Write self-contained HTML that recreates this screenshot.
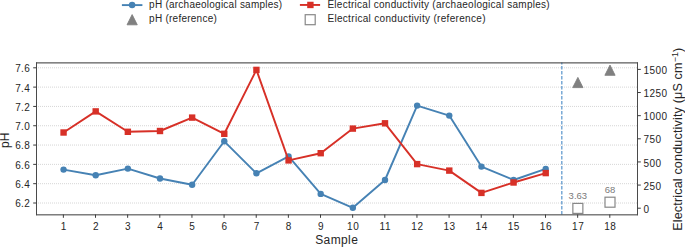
<!DOCTYPE html>
<html><head><meta charset="utf-8"><style>
html,body{margin:0;padding:0;background:#fff;width:685px;height:247px;overflow:hidden}
svg{display:block}
text{font-family:"Liberation Sans", sans-serif}
</style></head><body>
<svg width="685" height="247" viewBox="0 0 685 247">
<rect width="685" height="247" fill="#fff"/>
<line x1="38" x2="637.5" y1="67.80" y2="67.80" stroke="#d6d6d6" stroke-width="1" stroke-dasharray="1 1"/>
<line x1="38" x2="637.5" y1="87.11" y2="87.11" stroke="#d6d6d6" stroke-width="1" stroke-dasharray="1 1"/>
<line x1="38" x2="637.5" y1="106.43" y2="106.43" stroke="#d6d6d6" stroke-width="1" stroke-dasharray="1 1"/>
<line x1="38" x2="637.5" y1="125.74" y2="125.74" stroke="#d6d6d6" stroke-width="1" stroke-dasharray="1 1"/>
<line x1="38" x2="637.5" y1="145.06" y2="145.06" stroke="#d6d6d6" stroke-width="1" stroke-dasharray="1 1"/>
<line x1="38" x2="637.5" y1="164.37" y2="164.37" stroke="#d6d6d6" stroke-width="1" stroke-dasharray="1 1"/>
<line x1="38" x2="637.5" y1="183.68" y2="183.68" stroke="#d6d6d6" stroke-width="1" stroke-dasharray="1 1"/>
<line x1="38" x2="637.5" y1="203.00" y2="203.00" stroke="#d6d6d6" stroke-width="1" stroke-dasharray="1 1"/>
<line x1="561.79" x2="561.79" y1="214.5" y2="62.5" stroke="#6fa3d3" stroke-width="1.4" stroke-dasharray="3.4 1.6"/>
<polyline points="63.56,169.60 95.70,175.30 127.85,168.60 159.99,178.50 192.14,184.70 224.28,141.30 256.42,173.30 288.57,156.40 320.71,193.90 352.85,207.80 385.00,180.00 417.14,105.60 449.28,115.60 481.43,166.60 513.57,180.00 545.71,168.90" fill="none" stroke="#4682b4" stroke-width="1.9" stroke-linejoin="round"/>
<circle cx="63.56" cy="169.60" r="3.2" fill="#4682b4"/>
<circle cx="95.70" cy="175.30" r="3.2" fill="#4682b4"/>
<circle cx="127.85" cy="168.60" r="3.2" fill="#4682b4"/>
<circle cx="159.99" cy="178.50" r="3.2" fill="#4682b4"/>
<circle cx="192.14" cy="184.70" r="3.2" fill="#4682b4"/>
<circle cx="224.28" cy="141.30" r="3.2" fill="#4682b4"/>
<circle cx="256.42" cy="173.30" r="3.2" fill="#4682b4"/>
<circle cx="288.57" cy="156.40" r="3.2" fill="#4682b4"/>
<circle cx="320.71" cy="193.90" r="3.2" fill="#4682b4"/>
<circle cx="352.85" cy="207.80" r="3.2" fill="#4682b4"/>
<circle cx="385.00" cy="180.00" r="3.2" fill="#4682b4"/>
<circle cx="417.14" cy="105.60" r="3.2" fill="#4682b4"/>
<circle cx="449.28" cy="115.60" r="3.2" fill="#4682b4"/>
<circle cx="481.43" cy="166.60" r="3.2" fill="#4682b4"/>
<circle cx="513.57" cy="180.00" r="3.2" fill="#4682b4"/>
<circle cx="545.71" cy="168.90" r="3.2" fill="#4682b4"/>
<polygon points="577.86,77.40 572.76,87.60 582.96,87.60" fill="#808080" stroke="#808080" stroke-width="0.9"/>
<polygon points="610.00,65.10 604.90,75.30 615.10,75.30" fill="#808080" stroke="#808080" stroke-width="0.9"/>
<polyline points="63.56,132.50 95.70,111.40 127.85,131.80 159.99,131.00 192.14,117.60 224.28,133.80 256.42,69.90 288.57,160.40 320.71,153.20 352.85,128.60 385.00,123.30 417.14,164.10 449.28,170.60 481.43,192.90 513.57,182.50 545.71,173.10" fill="none" stroke="#d73027" stroke-width="1.9" stroke-linejoin="round"/>
<rect x="60.36" y="129.30" width="6.4" height="6.4" fill="#d73027"/>
<rect x="92.50" y="108.20" width="6.4" height="6.4" fill="#d73027"/>
<rect x="124.65" y="128.60" width="6.4" height="6.4" fill="#d73027"/>
<rect x="156.79" y="127.80" width="6.4" height="6.4" fill="#d73027"/>
<rect x="188.94" y="114.40" width="6.4" height="6.4" fill="#d73027"/>
<rect x="221.08" y="130.60" width="6.4" height="6.4" fill="#d73027"/>
<rect x="253.22" y="66.70" width="6.4" height="6.4" fill="#d73027"/>
<rect x="285.37" y="157.20" width="6.4" height="6.4" fill="#d73027"/>
<rect x="317.51" y="150.00" width="6.4" height="6.4" fill="#d73027"/>
<rect x="349.65" y="125.40" width="6.4" height="6.4" fill="#d73027"/>
<rect x="381.80" y="120.10" width="6.4" height="6.4" fill="#d73027"/>
<rect x="413.94" y="160.90" width="6.4" height="6.4" fill="#d73027"/>
<rect x="446.08" y="167.40" width="6.4" height="6.4" fill="#d73027"/>
<rect x="478.23" y="189.70" width="6.4" height="6.4" fill="#d73027"/>
<rect x="510.37" y="179.30" width="6.4" height="6.4" fill="#d73027"/>
<rect x="542.51" y="169.90" width="6.4" height="6.4" fill="#d73027"/>
<rect x="572.86" y="203.40" width="10" height="10" fill="#fff" stroke="#888" stroke-width="1.2"/>
<text x="577.86" y="198.80" font-size="9.5" fill="#7a7a7a" text-anchor="middle">3.63</text>
<rect x="605.00" y="197.20" width="10" height="10" fill="#fff" stroke="#888" stroke-width="1.2"/>
<text x="610.00" y="192.60" font-size="9.5" fill="#7a7a7a" text-anchor="middle">68</text>
<line x1="36.0" x2="638.0" y1="62.9" y2="62.9" stroke="#333" stroke-width="1"/>
<line x1="36.0" x2="638.0" y1="214.85" y2="214.85" stroke="#3a3a3a" stroke-width="1"/>
<line x1="36.5" x2="36.5" y1="62.4" y2="215.2" stroke="#4a4a4a" stroke-width="1"/>
<line x1="637.5" x2="637.5" y1="62.4" y2="215.2" stroke="#4a4a4a" stroke-width="1"/>
<line x1="33.2" x2="36.5" y1="67.80" y2="67.80" stroke="#3a3a3a" stroke-width="1"/>
<text x="29.8" y="72.20" font-size="10" fill="#262626" text-anchor="end" textLength="14.609375">7.6</text>
<line x1="33.2" x2="36.5" y1="87.11" y2="87.11" stroke="#3a3a3a" stroke-width="1"/>
<text x="29.8" y="91.51" font-size="10" fill="#262626" text-anchor="end" textLength="14.609375">7.4</text>
<line x1="33.2" x2="36.5" y1="106.43" y2="106.43" stroke="#3a3a3a" stroke-width="1"/>
<text x="29.8" y="110.83" font-size="10" fill="#262626" text-anchor="end" textLength="14.609375">7.2</text>
<line x1="33.2" x2="36.5" y1="125.74" y2="125.74" stroke="#3a3a3a" stroke-width="1"/>
<text x="29.8" y="130.14" font-size="10" fill="#262626" text-anchor="end" textLength="14.609375">7.0</text>
<line x1="33.2" x2="36.5" y1="145.06" y2="145.06" stroke="#3a3a3a" stroke-width="1"/>
<text x="29.8" y="149.46" font-size="10" fill="#262626" text-anchor="end" textLength="14.609375">6.8</text>
<line x1="33.2" x2="36.5" y1="164.37" y2="164.37" stroke="#3a3a3a" stroke-width="1"/>
<text x="29.8" y="168.77" font-size="10" fill="#262626" text-anchor="end" textLength="14.609375">6.6</text>
<line x1="33.2" x2="36.5" y1="183.68" y2="183.68" stroke="#3a3a3a" stroke-width="1"/>
<text x="29.8" y="188.08" font-size="10" fill="#262626" text-anchor="end" textLength="14.609375">6.4</text>
<line x1="33.2" x2="36.5" y1="203.00" y2="203.00" stroke="#3a3a3a" stroke-width="1"/>
<text x="29.8" y="207.40" font-size="10" fill="#262626" text-anchor="end" textLength="14.609375">6.2</text>
<line x1="637.5" x2="640.8" y1="208.20" y2="208.20" stroke="#3a3a3a" stroke-width="1"/>
<text x="643.6" y="212.80" font-size="10" fill="#262626" textLength="5.84375">0</text>
<line x1="637.5" x2="640.8" y1="185.07" y2="185.07" stroke="#3a3a3a" stroke-width="1"/>
<text x="643.6" y="189.67" font-size="10" fill="#262626" textLength="17.53125">250</text>
<line x1="637.5" x2="640.8" y1="161.93" y2="161.93" stroke="#3a3a3a" stroke-width="1"/>
<text x="643.6" y="166.53" font-size="10" fill="#262626" textLength="17.53125">500</text>
<line x1="637.5" x2="640.8" y1="138.80" y2="138.80" stroke="#3a3a3a" stroke-width="1"/>
<text x="643.6" y="143.40" font-size="10" fill="#262626" textLength="17.53125">750</text>
<line x1="637.5" x2="640.8" y1="115.67" y2="115.67" stroke="#3a3a3a" stroke-width="1"/>
<text x="643.6" y="120.27" font-size="10" fill="#262626" textLength="23.375">1000</text>
<line x1="637.5" x2="640.8" y1="92.53" y2="92.53" stroke="#3a3a3a" stroke-width="1"/>
<text x="643.6" y="97.13" font-size="10" fill="#262626" textLength="23.375">1250</text>
<line x1="637.5" x2="640.8" y1="69.40" y2="69.40" stroke="#3a3a3a" stroke-width="1"/>
<text x="643.6" y="74.00" font-size="10" fill="#262626" textLength="23.375">1500</text>
<line x1="63.36" x2="63.36" y1="214.5" y2="217.8" stroke="#3a3a3a" stroke-width="1"/>
<text x="63.56" y="229.7" font-size="10" fill="#262626" text-anchor="middle" textLength="5.84375">1</text>
<line x1="95.50" x2="95.50" y1="214.5" y2="217.8" stroke="#3a3a3a" stroke-width="1"/>
<text x="95.70" y="229.7" font-size="10" fill="#262626" text-anchor="middle" textLength="5.84375">2</text>
<line x1="127.65" x2="127.65" y1="214.5" y2="217.8" stroke="#3a3a3a" stroke-width="1"/>
<text x="127.85" y="229.7" font-size="10" fill="#262626" text-anchor="middle" textLength="5.84375">3</text>
<line x1="159.79" x2="159.79" y1="214.5" y2="217.8" stroke="#3a3a3a" stroke-width="1"/>
<text x="159.99" y="229.7" font-size="10" fill="#262626" text-anchor="middle" textLength="5.84375">4</text>
<line x1="191.94" x2="191.94" y1="214.5" y2="217.8" stroke="#3a3a3a" stroke-width="1"/>
<text x="192.14" y="229.7" font-size="10" fill="#262626" text-anchor="middle" textLength="5.84375">5</text>
<line x1="224.08" x2="224.08" y1="214.5" y2="217.8" stroke="#3a3a3a" stroke-width="1"/>
<text x="224.28" y="229.7" font-size="10" fill="#262626" text-anchor="middle" textLength="5.84375">6</text>
<line x1="256.22" x2="256.22" y1="214.5" y2="217.8" stroke="#3a3a3a" stroke-width="1"/>
<text x="256.42" y="229.7" font-size="10" fill="#262626" text-anchor="middle" textLength="5.84375">7</text>
<line x1="288.37" x2="288.37" y1="214.5" y2="217.8" stroke="#3a3a3a" stroke-width="1"/>
<text x="288.57" y="229.7" font-size="10" fill="#262626" text-anchor="middle" textLength="5.84375">8</text>
<line x1="320.51" x2="320.51" y1="214.5" y2="217.8" stroke="#3a3a3a" stroke-width="1"/>
<text x="320.71" y="229.7" font-size="10" fill="#262626" text-anchor="middle" textLength="5.84375">9</text>
<line x1="352.65" x2="352.65" y1="214.5" y2="217.8" stroke="#3a3a3a" stroke-width="1"/>
<text x="352.85" y="229.7" font-size="10" fill="#262626" text-anchor="middle" textLength="11.6875">10</text>
<line x1="384.80" x2="384.80" y1="214.5" y2="217.8" stroke="#3a3a3a" stroke-width="1"/>
<text x="385.00" y="229.7" font-size="10" fill="#262626" text-anchor="middle" textLength="10.90625">11</text>
<line x1="416.94" x2="416.94" y1="214.5" y2="217.8" stroke="#3a3a3a" stroke-width="1"/>
<text x="417.14" y="229.7" font-size="10" fill="#262626" text-anchor="middle" textLength="11.6875">12</text>
<line x1="449.08" x2="449.08" y1="214.5" y2="217.8" stroke="#3a3a3a" stroke-width="1"/>
<text x="449.28" y="229.7" font-size="10" fill="#262626" text-anchor="middle" textLength="11.6875">13</text>
<line x1="481.23" x2="481.23" y1="214.5" y2="217.8" stroke="#3a3a3a" stroke-width="1"/>
<text x="481.43" y="229.7" font-size="10" fill="#262626" text-anchor="middle" textLength="11.6875">14</text>
<line x1="513.37" x2="513.37" y1="214.5" y2="217.8" stroke="#3a3a3a" stroke-width="1"/>
<text x="513.57" y="229.7" font-size="10" fill="#262626" text-anchor="middle" textLength="11.6875">15</text>
<line x1="545.51" x2="545.51" y1="214.5" y2="217.8" stroke="#3a3a3a" stroke-width="1"/>
<text x="545.71" y="229.7" font-size="10" fill="#262626" text-anchor="middle" textLength="11.6875">16</text>
<line x1="577.66" x2="577.66" y1="214.5" y2="217.8" stroke="#3a3a3a" stroke-width="1"/>
<text x="577.86" y="229.7" font-size="10" fill="#262626" text-anchor="middle" textLength="11.6875">17</text>
<line x1="609.80" x2="609.80" y1="214.5" y2="217.8" stroke="#3a3a3a" stroke-width="1"/>
<text x="610.00" y="229.7" font-size="10" fill="#262626" text-anchor="middle" textLength="11.6875">18</text>
<text x="336.5" y="243.8" font-size="12" fill="#262626" text-anchor="middle" textLength="42.7">Sample</text>
<text transform="translate(9.1,140.3) rotate(-90)" font-size="12" fill="#262626" text-anchor="middle">pH</text>
<text transform="translate(682.4,139.3) rotate(-90)" font-size="12.6" fill="#262626" text-anchor="middle" textLength="183">Electrical conductivity (μS cm<tspan dy="-4.5" font-size="8.8">−1</tspan><tspan dy="4.5">)</tspan></text>
<line x1="121.9" x2="142.4" y1="5.1" y2="5.1" stroke="#4682b4" stroke-width="1.9"/>
<circle cx="132.1" cy="5.1" r="3.25" fill="#4682b4"/>
<text x="149.1" y="7.9" font-size="10" fill="#262626" textLength="133.06">pH (archaeological samples)</text>
<polygon points="132.15,14.6 127.05,24.8 137.25,24.8" fill="#808080" stroke="#808080" stroke-width="0.9"/>
<text x="149.1" y="22.1" font-size="10" fill="#262626" textLength="67.7">pH (reference)</text>
<line x1="299.9" x2="320.1" y1="4.95" y2="4.95" stroke="#d73027" stroke-width="1.9"/>
<rect x="307.2" y="1.75" width="6.4" height="6.4" fill="#d73027"/>
<text x="327.4" y="7.9" font-size="10" fill="#262626" textLength="222.3">Electrical conductivity (archaeological samples)</text>
<rect x="305.2" y="14.7" width="10" height="10" fill="#fff" stroke="#888" stroke-width="1.2"/>
<text x="327.4" y="22.1" font-size="10" fill="#262626" textLength="158.1">Electrical conductivity (reference)</text>
</svg>
</body></html>
